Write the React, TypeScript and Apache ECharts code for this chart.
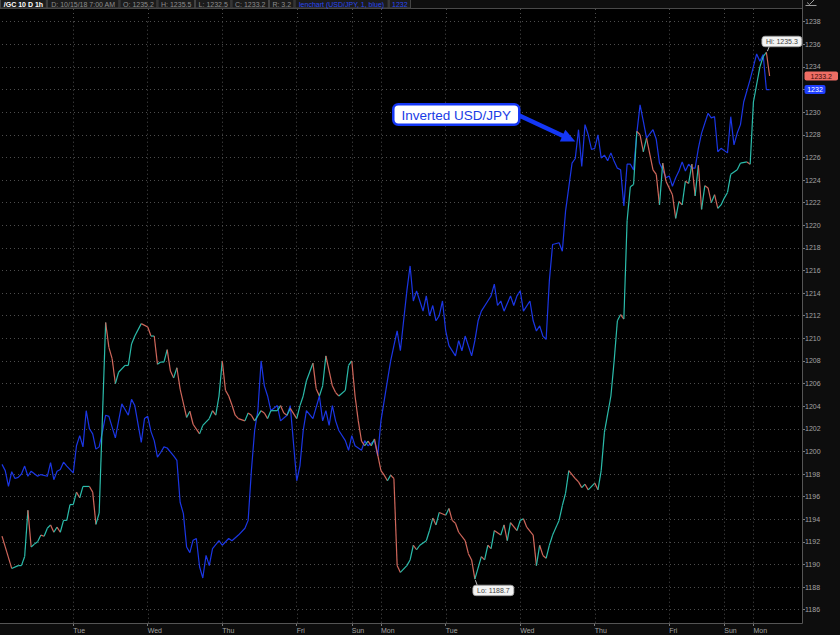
import React, { useEffect, useRef } from "react";
import * as echarts from "echarts";

// ---------- data ----------
const barCount = 248; // hourly slots on the x axis
const dayTickIdx = [22, 45, 68, 91, 108, 117, 137, 160, 183, 206, 223, 232];
const dayTickLabels = ["Tue", "Wed", "Thu", "Fri", "Sun", "Mon", "Tue", "Wed", "Thu", "Fri", "Sun", "Mon"];

const yMin = 1186;
const yMax = 1238;
const yStep = 2;

// /GC gold futures, hourly close [slot, price]
const goldData: [number, number][] = [
  [0, 1192.5], [3, 1189.65], [5, 1189.9], [6, 1189.9], [7, 1190.7], [8, 1194.8], [9, 1191.55], [10, 1191.8],
  [11, 1192.0], [12, 1192.6], [13, 1192.5], [14, 1193.2], [15, 1193.5], [16, 1192.85], [17, 1193.3], [18, 1192.85],
  [19, 1193.9], [20, 1193.9], [21, 1195.3], [22, 1195.3], [23, 1196.4], [24, 1195.9], [25, 1196.9], [27, 1196.9],
  [28, 1196.4], [29, 1193.55], [30, 1194.55], [32, 1211.4], [33, 1209.2], [34, 1208.2], [35, 1206.0], [36, 1207.0],
  [38, 1207.6], [39, 1207.6], [40, 1209.5], [41, 1210.2], [43, 1211.3], [45, 1211.0], [46, 1210.2], [47, 1210.2],
  [48, 1207.7], [49, 1207.9], [50, 1207.9], [51, 1209.0], [52, 1207.1], [53, 1206.5], [54, 1207.4], [55, 1205.5],
  [57, 1203.0], [58, 1203.55], [59, 1202.4], [61, 1201.55], [62, 1202.3], [64, 1202.9], [65, 1203.6], [66, 1203.2],
  [67, 1204.9], [68, 1208.0], [69, 1205.4], [70, 1204.9], [71, 1204.1], [72, 1203.2], [73, 1202.9], [75, 1202.7],
  [76, 1203.4], [77, 1203.2], [78, 1202.7], [80, 1203.6], [81, 1203.4], [82, 1202.9], [83, 1203.6], [85, 1203.6],
  [86, 1204.05], [87, 1203.4], [88, 1203.2], [89, 1203.8], [91, 1202.9], [92, 1204.05], [93, 1204.9], [94, 1206.25],
  [96, 1207.8], [97, 1205.55], [98, 1204.9], [99, 1205.8], [100, 1208.45], [102, 1205.8], [103, 1205.2], [104, 1204.9],
  [106, 1205.4], [107, 1207.6], [108, 1208.0], [109, 1204.9], [110, 1202.7], [111, 1200.9], [112, 1200.5], [113, 1200.9],
  [114, 1200.5], [115, 1201.1], [117, 1198.3], [118, 1197.9], [119, 1197.4], [120, 1197.9], [121, 1197.6], [122, 1189.9],
  [123, 1189.3], [125, 1189.9], [126, 1190.4], [127, 1191.7], [128, 1191.3], [129, 1191.7], [131, 1192.1], [132, 1193.0],
  [133, 1194.1], [134, 1193.5], [135, 1194.6], [137, 1194.35], [138, 1194.95], [139, 1193.9], [140, 1193.65], [141, 1192.85],
  [143, 1192.1], [144, 1190.95], [145, 1190.4], [146, 1188.7], [148, 1190.7], [149, 1190.4], [150, 1191.7], [151, 1191.4],
  [152, 1193.0], [154, 1192.6], [155, 1193.5], [156, 1192.1], [157, 1193.7], [159, 1193.0], [160, 1193.9], [161, 1194.05],
  [162, 1193.3], [164, 1192.6], [165, 1189.9], [166, 1191.7], [167, 1190.8], [168, 1190.55], [169, 1191.7], [170, 1192.6],
  [172, 1193.9], [173, 1195.2], [174, 1196.3], [175, 1198.3], [177, 1197.6], [178, 1197.3], [179, 1196.8], [180, 1197.1],
  [181, 1196.6], [183, 1197.2], [184, 1196.6], [185, 1198.3], [186, 1201.7], [188, 1204.9], [189, 1208.0], [190, 1211.55],
  [191, 1212.1], [192, 1211.7], [193, 1220.4], [194, 1223.4], [195, 1223.6], [196, 1228.3], [197, 1228.0], [198, 1226.5],
  [199, 1227.7], [201, 1224.9], [202, 1224.5], [203, 1221.8], [204, 1225.5], [205, 1223.9], [207, 1222.7], [208, 1220.6],
  [209, 1222.1], [210, 1221.8], [211, 1223.9], [212, 1223.7], [213, 1225.4], [214, 1222.6], [215, 1225.3], [216, 1221.4],
  [217, 1223.5], [218, 1223.3], [219, 1222.0], [220, 1222.7], [221, 1221.5], [222, 1221.8], [223, 1222.4], [224, 1222.9],
  [225, 1224.5], [227, 1224.9], [228, 1225.5], [230, 1225.6], [231, 1225.4], [232, 1230.9], [234, 1234.0], [235, 1234.9],
  [236, 1235.3], [237, 1233.2],
];

// Inverted USD/JPY comparison line, scaled to the gold price axis [slot, value]
const usdjpyData: [number, number][] = [
  [0, 1198.85], [1, 1198.3], [2, 1196.9], [3, 1198.2], [4, 1197.6], [5, 1197.7], [6, 1198.0], [7, 1198.7],
  [8, 1197.8], [9, 1198.25], [11, 1197.8], [12, 1197.95], [14, 1197.8], [15, 1199.0], [16, 1197.5], [17, 1198.25],
  [18, 1198.4], [19, 1199.05], [20, 1198.7], [22, 1198.1], [23, 1200.5], [24, 1201.4], [25, 1200.4], [26, 1203.6],
  [27, 1202.0], [28, 1201.55], [29, 1200.2], [30, 1200.4], [31, 1201.7], [32, 1203.2], [33, 1203.1], [35, 1201.2],
  [37, 1204.2], [39, 1203.2], [40, 1204.6], [41, 1204.05], [43, 1200.8], [44, 1202.9], [45, 1203.1], [46, 1201.75],
  [47, 1200.95], [48, 1199.5], [49, 1199.9], [50, 1200.4], [51, 1200.3], [53, 1199.6], [54, 1199.2], [55, 1195.5],
  [56, 1194.5], [57, 1191.55], [58, 1191.05], [59, 1192.15], [60, 1192.3], [61, 1189.8], [62, 1188.8], [63, 1190.8],
  [64, 1189.9], [65, 1191.4], [67, 1192.1], [68, 1191.7], [70, 1192.3], [71, 1192.1], [73, 1192.6], [75, 1193.2],
  [76, 1193.9], [77, 1198.3], [78, 1201.85], [79, 1203.6], [80, 1208.0], [81, 1205.8], [82, 1204.9], [83, 1203.6],
  [85, 1204.05], [86, 1202.7], [88, 1203.2], [89, 1204.05], [91, 1197.4], [92, 1198.75], [93, 1201.85], [94, 1203.6],
  [96, 1202.9], [98, 1204.9], [99, 1202.7], [100, 1203.6], [101, 1202.3], [102, 1204.05], [103, 1202.7], [104, 1201.85],
  [106, 1200.95], [107, 1200.1], [108, 1201.4], [109, 1200.5], [111, 1200.1], [112, 1200.95], [113, 1200.5], [115, 1200.95],
  [116, 1199.6], [117, 1202.7], [119, 1206.25], [120, 1208.0], [121, 1209.35], [122, 1210.65], [123, 1208.9], [124, 1211.55],
  [125, 1214.2], [126, 1216.4], [127, 1213.3], [128, 1214.2], [129, 1213.3], [130, 1212.4], [131, 1213.75], [132, 1212.0],
  [133, 1212.9], [134, 1211.55], [135, 1212.0], [136, 1213.3], [137, 1210.65], [138, 1209.35], [140, 1208.45], [141, 1209.8],
  [142, 1208.9], [143, 1210.2], [145, 1208.45], [146, 1209.8], [147, 1211.55], [148, 1212.4], [150, 1213.3], [151, 1213.75],
  [152, 1214.8], [153, 1212.9], [154, 1213.3], [155, 1212.4], [157, 1213.75], [158, 1212.9], [159, 1213.75], [160, 1214.2],
  [161, 1212.4], [163, 1213.3], [164, 1211.55], [165, 1210.65], [166, 1211.1], [167, 1210.2], [168, 1209.9], [169, 1215.1],
  [170, 1218.3], [172, 1218.45], [173, 1217.7], [174, 1221.25], [176, 1225.5], [177, 1225.9], [178, 1228.45], [179, 1225.2],
  [180, 1228.9], [181, 1228.0], [182, 1226.7], [183, 1226.8], [184, 1228.0], [185, 1225.95], [186, 1226.2], [187, 1225.7],
  [188, 1226.4], [189, 1225.65], [190, 1225.05], [191, 1224.9], [192, 1221.7], [193, 1225.4], [194, 1225.4], [195, 1224.9],
  [196, 1228.15], [197, 1230.65], [198, 1229.2], [199, 1227.7], [201, 1228.45], [202, 1227.6], [203, 1225.5], [204, 1224.9],
  [205, 1224.2], [206, 1224.35], [207, 1223.45], [208, 1224.2], [209, 1224.8], [210, 1225.6], [211, 1224.8], [212, 1225.4],
  [213, 1225.05], [214, 1225.05], [215, 1226.8], [216, 1228.15], [218, 1229.9], [219, 1229.5], [220, 1229.6], [221, 1226.5],
  [222, 1226.8], [224, 1226.4], [225, 1229.6], [226, 1227.1], [227, 1228.15], [228, 1228.9], [229, 1230.9], [231, 1232.9],
  [233, 1235.15], [234, 1234.5], [235, 1235.1], [236, 1232.0], [237, 1232.0],
];

const hiPoint = { idx: 236, value: 1235.3, label: "Hi: 1235.3" };
const loPoint = { idx: 146, value: 1188.7, label: "Lo: 1188.7" };
const lastGold = { value: 1233.2, label: "1233.2" };
const lastUsdJpy = { value: 1232, label: "1232" };
const arrowTarget = { idx: 177, value: 1227.4, label: "Inverted USD/JPY" };

const headerTexts = [
  "/GC 10 D 1h",
  "D: 10/15/18 7:00 AM",
  "O: 1235.2",
  "H: 1235.5",
  "L: 1232.5",
  "C: 1233.2",
  "R: 3.2",
  "lenchart (USD/JPY, 1, blue)",
  "1232",
];

// ---------- styling ----------
const TEAL = "#2bbcab";
const RED = "#d0675b";
const BLUE = "#1b36e4";
const FONT = "Liberation Sans, Arial, sans-serif";
const GRID_DOT = "#4d4d4d";
const headerColors = ["#ffffff", "#8d8d8d", "#8d8d8d", "#8d8d8d", "#8d8d8d", "#8d8d8d", "#8d8d8d", "#2a48f0", "#2a48f0"];
const headerRight = 411;
const plotTop = 8;
const plotBottom = 623;

export default function App() {
  const ref = useRef<HTMLDivElement>(null);

  useEffect(() => {
    const el = ref.current;
    if (!el) return;
    const chart = echarts.init(el, null, { renderer: "svg" });

    const categories = Array.from({ length: barCount }, (_, i) => {
      const k = dayTickIdx.indexOf(i);
      return k >= 0 ? dayTickLabels[k] : "";
    });
    const isDay = (i: number) => dayTickIdx.indexOf(i) >= 0;

    const segments = goldData.slice(1).map((d, k) => [goldData[k][0], d[0], goldData[k][1], d[1]]);

    chart.setOption({
      animation: false,
      backgroundColor: "#0d0d0d",
      grid: { left: 2, right: 38, top: 21.7, bottom: 25.3, containLabel: false },
      xAxis: {
        type: "category",
        data: categories,
        boundaryGap: false,
        offset: 13.3,
        axisLine: { show: false },
        axisTick: { show: true, interval: (i: number) => isDay(i), length: 3, lineStyle: { color: "#7a7a7a" } },
        axisLabel: {
          interval: (i: number) => isDay(i),
          align: "left",
          margin: 4,
          color: "#a3a3a3",
          fontSize: 7,
          fontFamily: FONT,
        },
        splitLine: { show: true, interval: (i: number) => isDay(i), lineStyle: { color: GRID_DOT, type: [1, 3], width: 1 } },
      },
      yAxis: {
        type: "value",
        position: "right",
        min: yMin,
        max: yMax,
        interval: yStep,
        axisLine: { show: false },
        axisTick: { show: true, length: 3, lineStyle: { color: "#7a7a7a" } },
        axisLabel: {
          margin: 3,
          color: "#a3a3a3",
          fontSize: 7,
          fontFamily: FONT,
          formatter: (v: number) => (v === lastUsdJpy.value ? "" : String(v)),
        },
        splitLine: { show: true, lineStyle: { color: GRID_DOT, type: [1, 3], width: 1 } },
      },
      series: [
        {
          type: "line",
          name: "Inverted USD/JPY",
          data: usdjpyData,
          symbol: "none",
          lineStyle: { color: BLUE, width: 1.2 },
          z: 2,
        },
        {
          type: "custom",
          name: "/GC",
          data: segments,
          encode: { x: [0, 1], y: [2, 3] },
          z: 3,
          renderItem: (_params: any, api: any) => {
            const v0 = api.value(2);
            const v1 = api.value(3);
            const p1 = api.coord([api.value(0), v0]);
            const p2 = api.coord([api.value(1), v1]);
            return {
              type: "line",
              shape: { x1: p1[0], y1: p1[1], x2: p2[0], y2: p2[1] },
              style: { stroke: v1 >= v0 ? TEAL : RED, lineWidth: 1.2 },
            };
          },
        },
      ],
    });

    const px = (i: number, v: number) => chart.convertToPixel({ gridIndex: 0 }, [i, v]) as number[];
    const g: any[] = [];

    // plot area background & frame
    g.push({ type: "rect", z: -10, silent: true, shape: { x: 0, y: plotTop, width: 802.5, height: plotBottom + 0.5 - plotTop }, style: { fill: "#000000" } });
    g.push({ type: "rect", z: 5, silent: true, shape: { x: 0, y: 0, width: 803, height: plotTop }, style: { fill: "#0f0f0f" } });
    g.push({ type: "line", z: 5, silent: true, shape: { x1: 0, y1: plotTop + 0.5, x2: 803, y2: plotTop + 0.5 }, style: { stroke: "#4a4a4a", lineWidth: 1 } });
    g.push({ type: "line", z: 5, silent: true, shape: { x1: 802.5, y1: 0, x2: 802.5, y2: plotBottom + 0.5 }, style: { stroke: "#555555", lineWidth: 1 } });
    g.push({ type: "line", z: 5, silent: true, shape: { x1: 0, y1: plotBottom + 0.5, x2: 802.5, y2: plotBottom + 0.5 }, style: { stroke: "#555555", lineWidth: 1 } });

    // extend the vertical day separators over the whole plot height
    const gridTopY = px(0, yMax)[1];
    const gridBotY = px(0, yMin)[1];
    dayTickIdx.forEach((i) => {
      const x = Math.round(px(i, yMin)[0]) + 0.5;
      g.push({ type: "line", z: -5, silent: true, shape: { x1: x, y1: plotTop + 1, x2: x, y2: gridTopY }, style: { stroke: GRID_DOT, lineWidth: 1, lineDash: [1, 3] } });
      g.push({ type: "line", z: -5, silent: true, shape: { x1: x, y1: gridBotY, x2: x, y2: plotBottom }, style: { stroke: GRID_DOT, lineWidth: 1, lineDash: [1, 3] } });
    });

    // header cells, widths measured from their texts
    const ctx = document.createElement("canvas").getContext("2d");
    const fontFor = (k: number, size: number) => `${k === 0 ? "bold " : ""}${size}px ${FONT}`;
    const pad = 6;
    let size = 7;
    const measure = (s: number) =>
      headerTexts.map((t, k) => {
        if (!ctx) return t.length * s * 0.55 + pad;
        ctx.font = fontFor(k, s);
        return ctx.measureText(t).width + pad;
      });
    let widths = measure(size);
    let total = widths.reduce((a, b) => a + b, 0);
    if (total > headerRight) {
      size = Math.max(5.5, size * (headerRight - pad * headerTexts.length) / (total - pad * headerTexts.length));
      widths = measure(size);
      total = widths.reduce((a, b) => a + b, 0);
    }
    const stretch = headerRight / total;
    let cx = 0;
    headerTexts.forEach((t, k) => {
      const w = widths[k] * stretch;
      g.push({
        type: "rect", z: 6, silent: true,
        shape: { x: cx + 0.5, y: -1, width: w - 1, height: 9 },
        style: { fill: "#1b1b1b", stroke: "#444444", lineWidth: 1 },
      });
      g.push({
        type: "text", z: 7, silent: true,
        style: {
          text: t, x: cx + w / 2, y: 4.3, fill: headerColors[k],
          font: fontFor(k, size),
          align: "center", verticalAlign: "middle",
        },
      });
      cx += w;
    });

    // check icon top right
    g.push({ type: "polyline", z: 6, silent: true, shape: { points: [[807, 2.5], [809.5, 4.5], [814, 0]] }, style: { stroke: "#9a9a9a", lineWidth: 1, fill: "none" } });
    g.push({ type: "line", z: 6, silent: true, shape: { x1: 805.5, y1: 5.5, x2: 816.5, y2: 5.5 }, style: { stroke: "#9a9a9a", lineWidth: 1 } });

    // last price tags
    const yG = px(0, lastGold.value)[1];
    const yB = px(0, lastUsdJpy.value)[1];
    g.push({ type: "rect", z: 8, silent: true, shape: { x: 804.5, y: yG - 4.5, width: 33.5, height: 9, r: 2 }, style: { fill: "#ee6d64" } });
    g.push({ type: "text", z: 9, silent: true, style: { text: lastGold.label, x: 821.2, y: yG + 0.3, fill: "#3a0c08", font: `7px ${FONT}`, align: "center", verticalAlign: "middle" } });
    g.push({ type: "rect", z: 8, silent: true, shape: { x: 804.5, y: yB - 4.5, width: 21, height: 9, r: 2 }, style: { fill: "#1f3fff" } });
    g.push({ type: "text", z: 9, silent: true, style: { text: lastUsdJpy.label, x: 815, y: yB + 0.3, fill: "#ffffff", font: `7px ${FONT}`, align: "center", verticalAlign: "middle" } });

    // Hi / Lo bubbles
    const hp = px(hiPoint.idx, hiPoint.value);
    g.push({ type: "line", z: 8, silent: true, shape: { x1: hp[0] + 1, y1: hp[1] - 1, x2: hp[0] + 3, y2: hp[1] - 6 }, style: { stroke: "#bbbbbb", lineWidth: 1 } });
    g.push({ type: "rect", z: 8, silent: true, shape: { x: hp[0] - 4.5, y: hp[1] - 16, width: 40, height: 10.5, r: 3 }, style: { fill: "#f3f3f3", stroke: "#9a9a9a", lineWidth: 0.8 } });
    g.push({ type: "text", z: 9, silent: true, style: { text: hiPoint.label, x: hp[0] + 15.5, y: hp[1] - 10.6, fill: "#444444", font: `7px ${FONT}`, align: "center", verticalAlign: "middle" } });

    const lp = px(loPoint.idx, loPoint.value);
    g.push({ type: "line", z: 8, silent: true, shape: { x1: lp[0] + 0.5, y1: lp[1] + 1, x2: lp[0] + 2.5, y2: lp[1] + 6.5 }, style: { stroke: "#bbbbbb", lineWidth: 1 } });
    g.push({ type: "rect", z: 8, silent: true, shape: { x: lp[0] - 2, y: lp[1] + 6, width: 41, height: 10.5, r: 3 }, style: { fill: "#f3f3f3", stroke: "#9a9a9a", lineWidth: 0.8 } });
    g.push({ type: "text", z: 9, silent: true, style: { text: loPoint.label, x: lp[0] + 18.5, y: lp[1] + 11.4, fill: "#444444", font: `7px ${FONT}`, align: "center", verticalAlign: "middle" } });

    // "Inverted USD/JPY" callout with arrow
    const tip = px(arrowTarget.idx, arrowTarget.value);
    const bx = tip[0] - 182;
    const by = tip[1] - 37.3;
    const start = [tip[0] - 56, tip[1] - 26];
    const dx = tip[0] - start[0];
    const dy = tip[1] - start[1];
    const len = Math.sqrt(dx * dx + dy * dy);
    const ux = dx / len, uy = dy / len;
    const nx = -uy, ny = ux;
    const headLen = 14, headHalf = 6.5;
    const base = [tip[0] - ux * headLen, tip[1] - uy * headLen];
    g.push({ type: "line", z: 8, silent: true, shape: { x1: start[0], y1: start[1], x2: base[0] + ux * 2, y2: base[1] + uy * 2 }, style: { stroke: "#1437f5", lineWidth: 4.5 } });
    g.push({
      type: "polygon", z: 8, silent: true,
      shape: { points: [[tip[0], tip[1]], [base[0] + nx * headHalf, base[1] + ny * headHalf], [base[0] - nx * headHalf, base[1] - ny * headHalf]] },
      style: { fill: "#1437f5" },
    });
    g.push({ type: "rect", z: 9, silent: true, shape: { x: bx, y: by, width: 126, height: 20.6, r: 5 }, style: { fill: "#ffffff", stroke: "#1437f5", lineWidth: 2.5 } });
    g.push({ type: "text", z: 10, silent: true, style: { text: arrowTarget.label, x: bx + 63, y: by + 10.8, fill: "#1a3ce6", font: `13.5px ${FONT}`, align: "center", verticalAlign: "middle" } });

    chart.setOption({ graphic: g });

    return () => chart.dispose();
  }, []);

  return <div ref={ref} style={{ position: "fixed", left: 0, top: 0, width: 840, height: 635 }} />;
}
